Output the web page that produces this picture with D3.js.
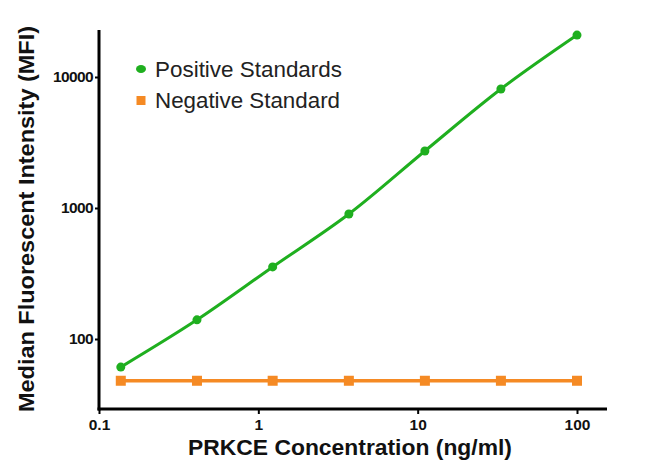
<!DOCTYPE html>
<html><head><meta charset="utf-8">
<script src="https://cdn.jsdelivr.net/npm/d3@7"></script>
<style>body{margin:0;background:#fff}svg{display:block}</style>
</head><body><svg id="c" width="650" height="469"></svg>
<script>
const concentrations = [0.137, 0.412, 1.23, 3.7, 11.1, 33.3, 100];
const positiveValues = [61, 140, 355, 900, 2725, 8100, 20900];
const negativeValues = [48, 48, 48, 48, 48, 48, 48];
const xTicks = [0.1, 1, 10, 100];
const yTicks = [100, 1000, 10000];
const seriesNames = ["Positive Standards", "Negative Standard"];

const svg = d3.select("#c");
const font = "Liberation Sans, Arial, sans-serif";
const x = d3.scaleLog().domain([0.1, 100]).range([99, 577]);
const y = d3.scaleLog().domain([100, 10000]).range([339, 77]);
const yBottom = 409, yTop = 30, xRight = 607;

const green = "#1faf1f", orange = "#f58a24";

// axes
const xAxis = svg.append("g").attr("transform", `translate(0,${yBottom})`)
  .call(d3.axisBottom(x).tickValues(xTicks).tickFormat(d => d3.format("~g")(d)).tickSize(5).tickSizeOuter(0));
xAxis.select(".domain").remove();
svg.append("line").attr("x1", 97.5).attr("x2", xRight).attr("y1", yBottom).attr("y2", yBottom)
  .attr("stroke", "#000").attr("stroke-width", 3);
xAxis.selectAll(".tick line").attr("stroke", "#000").attr("stroke-width", 2);
xAxis.selectAll(".tick text").attr("font-family", font).attr("font-size", 15.5).attr("font-weight", "bold")
  .attr("fill", "#111").attr("y", 21).attr("dy", null);

const yAxis = svg.append("g").attr("transform", "translate(99,0)")
  .call(d3.axisLeft(y).tickValues(yTicks).tickFormat(d3.format("d")).tickSize(4).tickSizeOuter(0));
yAxis.select(".domain").remove();
svg.append("line").attr("x1", 99).attr("x2", 99).attr("y1", yTop).attr("y2", yBottom + 1.5)
  .attr("stroke", "#000").attr("stroke-width", 3);
yAxis.selectAll(".tick line").attr("stroke", "#000").attr("stroke-width", 2);
yAxis.selectAll(".tick text").attr("font-family", font).attr("font-size", 15.5).attr("font-weight", "bold")
  .attr("fill", "#111").attr("x", -6).attr("letter-spacing", -0.6);

// titles
svg.append("text").attr("x", 350).attr("y", 455).attr("text-anchor", "middle")
  .attr("font-family", font).attr("font-size", 21.5).attr("font-weight", "bold").attr("fill", "#111")
  .attr("textLength", 324).attr("lengthAdjust", "spacingAndGlyphs")
  .text("PRKCE Concentration (ng/ml)");
svg.append("text").attr("transform", "translate(34,219) rotate(-90)").attr("text-anchor", "middle")
  .attr("font-family", font).attr("font-size", 21.5).attr("font-weight", "bold").attr("fill", "#111")
  .attr("textLength", 386).attr("lengthAdjust", "spacingAndGlyphs")
  .text("Median Fluorescent Intensity (MFI)");

// lines
const line = d3.line().x(d => x(d[0])).y(d => y(d[1])).curve(d3.curveCatmullRom.alpha(0.5));
const pos = concentrations.map((c, i) => [c, positiveValues[i]]);
const neg = concentrations.map((c, i) => [c, negativeValues[i]]);

svg.append("path").datum(neg).attr("d", d3.line().x(d => x(d[0])).y(d => y(d[1])))
  .attr("fill", "none").attr("stroke", orange).attr("stroke-width", 3.5);
svg.selectAll(".sq").data(neg).enter().append("rect")
  .attr("x", d => x(d[0]) - 5).attr("y", d => y(d[1]) - 5).attr("width", 10).attr("height", 10)
  .attr("fill", orange);

svg.append("path").datum(pos).attr("d", line)
  .attr("fill", "none").attr("stroke", green).attr("stroke-width", 3);
svg.selectAll(".dot").data(pos).enter().append("circle")
  .attr("cx", d => x(d[0])).attr("cy", d => y(d[1])).attr("r", 4.5).attr("fill", green);

// legend
const lg = svg.append("g");
lg.append("ellipse").attr("cx", 141).attr("cy", 69).attr("rx", 5).attr("ry", 4).attr("fill", green);
lg.append("rect").attr("x", 136.5).attr("y", 96).attr("width", 9).attr("height", 9).attr("fill", orange);
[77, 108].forEach((yy, i) => {
  lg.append("text").attr("x", 155).attr("y", yy)
    .attr("font-family", font).attr("font-size", 21.5).attr("fill", "#222")
    .attr("textLength", i === 0 ? 187 : 185).attr("lengthAdjust", "spacingAndGlyphs")
    .text(seriesNames[i]);
});
</script></body></html>
